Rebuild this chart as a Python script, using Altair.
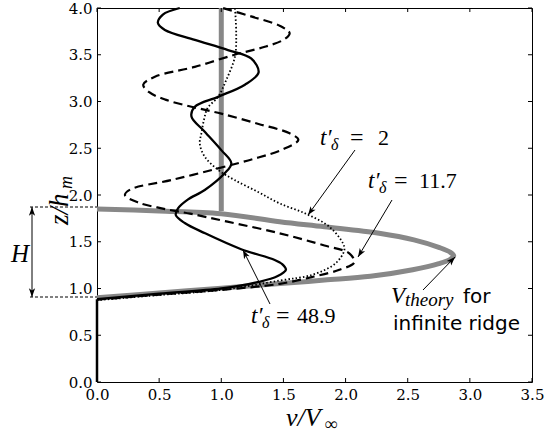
import math
import altair as alt
import pandas as pd

# ---------------- data ----------------
x_ticks = [0.0, 0.5, 1.0, 1.5, 2.0, 2.5, 3.0, 3.5]
y_ticks = [0.0, 0.5, 1.0, 1.5, 2.0, 2.5, 3.0, 3.5, 4.0]

# V_theory for infinite ridge (grey thick curve)
vt_v = [0, 0.5, 1.0, 1.5, 1.83, 2.2, 2.54, 2.75, 2.84, 2.87, 2.84, 2.75, 2.55, 2.27, 1.83, 1.47, 1.0, 0.5, 0]
vt_z = [0.90, 0.952, 1.004, 1.055, 1.09, 1.13, 1.20, 1.265, 1.31, 1.35, 1.39, 1.44, 1.52, 1.59, 1.66, 1.714, 1.80, 1.83, 1.85]

# free-stream grey vertical line
vg_v = [1.0, 1.0]
vg_z = [1.83, 4.0]

# common base segment along v = 0
base_v = [0, 0]
base_z = [0, 0.885]

# t'_delta = 48.9 (solid)
s_v = [0, 0.5, 1.0, 1.3, 1.45, 1.52, 1.49, 1.43, 1.16, 0.87, 0.706, 0.634, 0.652, 0.73, 0.867, 1.027,
       1.081, 1.0, 0.867, 0.76, 0.787, 0.974, 1.19, 1.30, 1.24, 1.054, 0.787, 0.546, 0.49, 0.53, 0.666]
s_z = [0.885, 0.945, 1.0, 1.07, 1.13, 1.2, 1.26, 1.305, 1.42, 1.59, 1.70, 1.786, 1.857, 1.95, 2.053, 2.232,
       2.339, 2.48, 2.677, 2.84, 2.944, 3.05, 3.18, 3.31, 3.46, 3.55, 3.66, 3.765, 3.84, 3.93, 4.0]

# t'_delta = 11.7 (dashed)
d_v = [0, 0.5, 1.0, 1.47, 1.74, 1.95, 2.07, 2.03, 1.83, 1.47, 1.05, 0.75, 0.52, 0.33, 0.225, 0.27, 0.6,
       0.974, 1.27, 1.50, 1.62, 1.55, 1.30, 1.0, 0.76, 0.55, 0.42, 0.372, 0.466, 0.787, 1.107, 1.35, 1.50,
       1.55, 1.47, 1.24, 1.01]
d_z = [0.88, 0.935, 0.985, 1.05, 1.126, 1.20, 1.28, 1.376, 1.46, 1.59, 1.715, 1.80, 1.857, 1.92, 2.0, 2.06,
       2.16, 2.285, 2.39, 2.49, 2.59, 2.66, 2.76, 2.87, 2.944, 3.02, 3.10, 3.18, 3.265, 3.37, 3.50, 3.585,
       3.66, 3.73, 3.81, 3.91, 4.0]

# t'_delta = 2 (dotted)
t_v = [0, 0.5, 1.0, 1.47, 1.74, 1.92, 1.99, 1.98, 1.87, 1.68, 1.47, 1.30, 1.107, 0.974, 0.867, 0.827,
       0.84, 0.86, 0.89, 0.974, 1.04, 1.11, 1.12, 1.11]
t_z = [0.875, 0.93, 0.985, 1.085, 1.15, 1.27, 1.41, 1.48, 1.66, 1.80, 1.91, 2.03, 2.16, 2.27, 2.41, 2.55,
       2.66, 2.80, 2.93, 3.05, 3.23, 3.48, 3.73, 4.0]

# ---------------- layout ----------------
W, H = 435, 374
PL, PT = 97, 8
XMAX, YMAX = 3.5, 4.0


def dv(px):
    return (px - PL) / W * XMAX


def dz(py):
    return (PT + H - py) / H * YMAX


GREY = "#888888"
SERIF = "Liberation Serif"
TICKF = "DejaVu Serif"
SANS = "DejaVu Sans"

x_scale = alt.Scale(domain=[0, XMAX], nice=False, zero=False)
y_scale = alt.Scale(domain=[0, YMAX], nice=False, zero=False)
x_axis = alt.Axis(values=x_ticks, format=".1f", title=None, ticks=False, domain=False, grid=False,
                  labelFont=TICKF, labelFontSize=15, labelColor="black", labelPadding=5, labelFlush=False)
y_axis = alt.Axis(values=y_ticks, format=".1f", title=None, ticks=False, domain=False, grid=False,
                  labelFont=TICKF, labelFontSize=15, labelColor="black", labelPadding=5)
X = alt.X("v:Q", scale=x_scale, axis=x_axis)
Y = alt.Y("z:Q", scale=y_scale, axis=y_axis)


def cdf(v, z):
    return pd.DataFrame({"v": v, "z": z, "i": list(range(len(v)))})


def curve(v, z, **kw):
    return alt.Chart(cdf(v, z)).mark_line(**kw).encode(x=X, y=Y, order="i:Q")


layers = []
layers.append(curve(vt_v, vt_z, color=GREY, strokeWidth=5, interpolate="catmull-rom"))
layers.append(curve(vg_v, vg_z, color=GREY, strokeWidth=5))
layers.append(curve(base_v, base_z, color="black", strokeWidth=2.5))
layers.append(curve(t_v, t_z, color="black", strokeWidth=1.8, strokeDash=[1.5, 2.2], interpolate="catmull-rom"))
layers.append(curve(d_v, d_z, color="black", strokeWidth=2.2, strokeDash=[9, 5], interpolate="catmull-rom"))
layers.append(curve(s_v, s_z, color="black", strokeWidth=2.3, interpolate="catmull-rom"))

# inward ticks on all four sides
xt = pd.DataFrame({"v": x_ticks})
yt = pd.DataFrame({"z": y_ticks})
TL = 4
layers.append(alt.Chart(xt).mark_rule(color="black", strokeWidth=1).encode(x=X, y=alt.value(H), y2=alt.value(H - TL)))
layers.append(alt.Chart(xt).mark_rule(color="black", strokeWidth=1).encode(x=X, y=alt.value(0), y2=alt.value(TL)))
layers.append(alt.Chart(yt).mark_rule(color="black", strokeWidth=1).encode(y=Y, x=alt.value(0), x2=alt.value(TL)))
layers.append(alt.Chart(yt).mark_rule(color="black", strokeWidth=1).encode(y=Y, x=alt.value(W), x2=alt.value(W - TL)))

# annotation arrows (pixel positions in the page -> data units)
arrows_px = [
    ((355, 150), (308, 215)),   # t'=2
    ((392, 200), (358, 257)),   # t'=11.7
    ((270, 304), (243, 250)),   # t'=48.9
    ((423, 290), (455, 257)),   # V_theory
    ((32, 252), (32, 207)),     # H up
    ((32, 252), (32, 297)),     # H down
]
arr = pd.DataFrame({
    "v": [dv(a[0][0]) for a in arrows_px], "z": [dz(a[0][1]) for a in arrows_px],
    "v2": [dv(a[1][0]) for a in arrows_px], "z2": [dz(a[1][1]) for a in arrows_px],
})
layers.append(alt.Chart(arr).mark_rule(color="black", strokeWidth=1).encode(x=X, y=Y, x2="v2:Q", y2="z2:Q"))

heads = pd.DataFrame({
    "v": [dv(a[1][0]) for a in arrows_px],
    "z": [dz(a[1][1]) for a in arrows_px],
    "ang": [math.degrees(math.atan2(a[1][0] - a[0][0], -(a[1][1] - a[0][1]))) % 360 for a in arrows_px],
})
layers.append(alt.Chart(heads).mark_point(shape="M0,0L0.36,1L0,0.75L-0.36,1Z", filled=True, size=300,
                                          color="black", opacity=1).encode(
    x=X, y=Y, angle=alt.Angle("ang:Q", scale=None)))

# H guide dashed lines
hl = pd.DataFrame({"v": [dv(30), dv(30)], "z": [dz(207), dz(297)], "v2": [0, 0]})
layers.append(alt.Chart(hl).mark_rule(color="black", strokeWidth=1, strokeDash=[3, 2]).encode(x=X, y=Y, x2="v2:Q"))

# text pieces
ital_big = pd.DataFrame({
    "t": ["t\u2032", "t\u2032", "t\u2032"],
    "v": [dv(320), dv(368), dv(251)],
    "z": [dz(145), dz(188), dz(323)],
})
ital_h = pd.DataFrame({"t": ["H"], "v": [dv(11)], "z": [dz(262)]})
ital_x = pd.DataFrame({"t": ["v/V"], "v": [dv(286)], "z": [dz(426)]})
ital_v = pd.DataFrame({"t": ["V"], "v": [dv(391)], "z": [dz(303)]})
ital_small = pd.DataFrame({
    "t": ["\u03b4", "\u03b4", "\u03b4"],
    "v": [dv(331), dv(379), dv(262)],
    "z": [dz(150), dz(193), dz(328)],
})
ital_inf = pd.DataFrame({"t": ["\u221e"], "v": [dv(325)], "z": [dz(430)]})
ital_sub = pd.DataFrame({"t": ["theory"], "v": [dv(405)], "z": [dz(306)]})
equals = pd.DataFrame({
    "t": ["=", "=", "="],
    "v": [dv(350), dv(394), dv(276)],
    "z": [dz(145), dz(188), dz(323)],
})
numbers = pd.DataFrame({
    "t": ["2", "11.7", "48.9"],
    "v": [dv(378), dv(419), dv(297)],
    "z": [dz(145), dz(188), dz(323)],
})
sans = pd.DataFrame({
    "t": ["for", "infinite ridge"],
    "v": [dv(463), dv(393)],
    "z": [dz(303), dz(330)],
})


def txt(df, font, size, style=None, angle=None):
    kw = dict(font=font, fontSize=size, align="left", baseline="alphabetic", color="black")
    if style:
        kw["fontStyle"] = style
    if angle is not None:
        kw["angle"] = angle
    return alt.Chart(df).mark_text(**kw).encode(x=X, y=Y, text="t:N")


layers.append(txt(ital_big, SERIF, 23, "italic"))
layers.append(txt(ital_h, SERIF, 25, "italic"))
layers.append(txt(ital_x, SERIF, 26, "italic"))
layers.append(txt(ital_v, SERIF, 23, "italic"))
layers.append(txt(ital_small, SERIF, 16, "italic"))
layers.append(txt(ital_inf, SERIF, 18, "italic"))
layers.append(txt(ital_sub, SERIF, 19, "italic"))
layers.append(txt(equals, SERIF, 24))
layers.append(txt(numbers, SERIF, 22))
layers.append(txt(sans, SANS, 20))

# rotated y title z/h_m
ytitle_big = pd.DataFrame({"t": ["z/h"], "v": [dv(68)], "z": [dz(225)]})
ytitle_small = pd.DataFrame({"t": ["m"], "v": [dv(72)], "z": [dz(189)]})
layers.append(txt(ytitle_big, SERIF, 27, "italic", 270))
layers.append(txt(ytitle_small, SERIF, 18, "italic", 270))

chart = alt.layer(*layers).properties(
    width=W, height=H,
    autosize=alt.AutoSizeParams(type="none"),
    padding={"left": PL, "top": PT, "right": 545 - PL - W, "bottom": 442 - PT - H},
    background="white",
).configure_view(stroke="black", strokeWidth=1)

chart.save("out.html", embed_options={"renderer": "svg", "actions": False})
